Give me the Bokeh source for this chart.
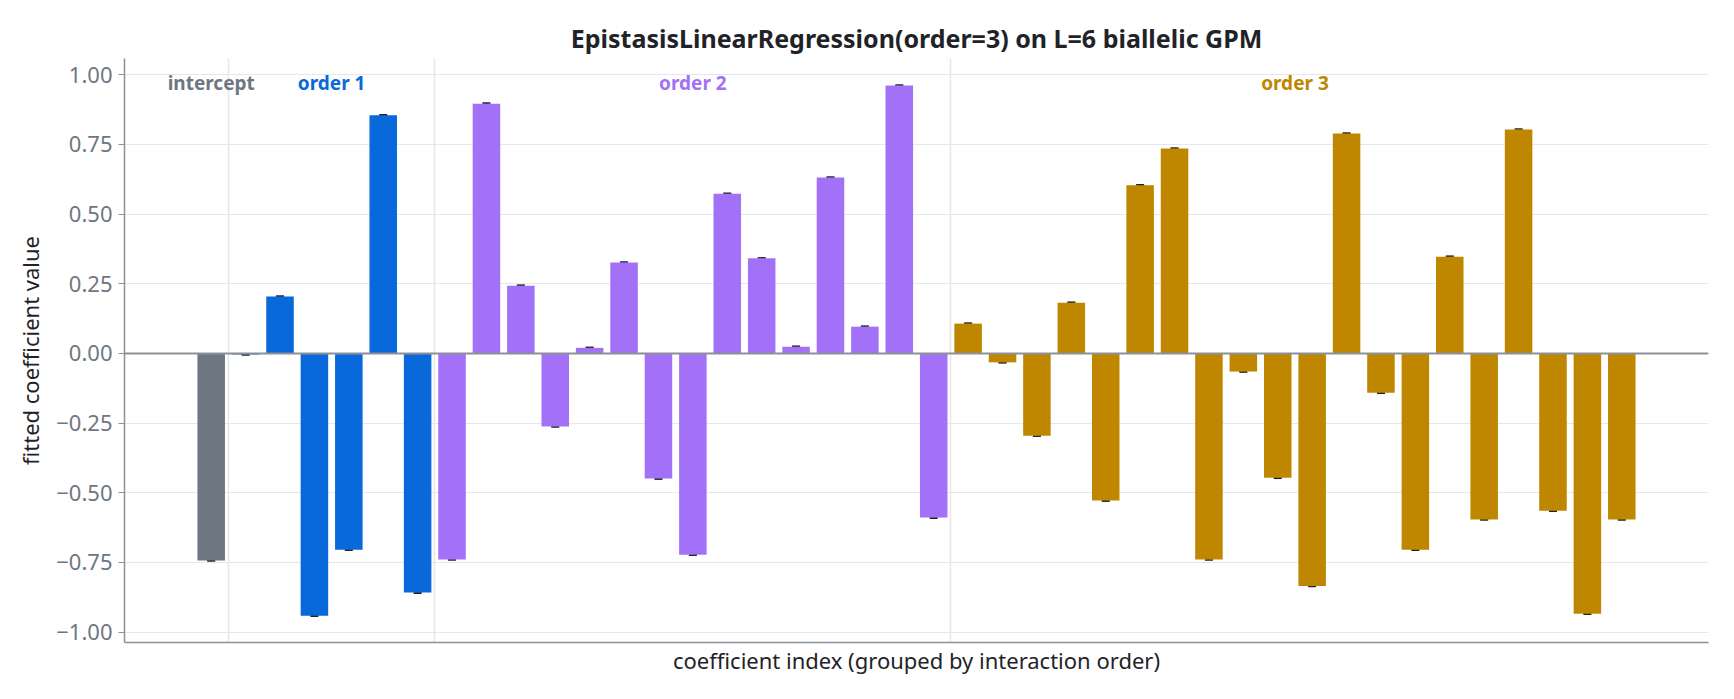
from bokeh.plotting import figure
from bokeh.models import (Range1d, FixedTicker, Span, Whisker, ColumnDataSource,
                          CustomJSTickFormatter, TeeHead)
from bokeh.core.properties import value
from bokeh.embed import file_html
from bokeh.resources import INLINE

# Fitted coefficients, grouped by interaction order
group_names = ["intercept", "order 1", "order 2", "order 3"]
group_colors = ["#6e7781", "#0969da", "#a371f7", "#bf8700"]

coef_intercept = [-0.743]
coef_order1 = [-0.004, 0.204, -0.941, -0.704, 0.854, -0.858]
coef_order2 = [-0.739, 0.896, 0.243, -0.262, 0.020, 0.326, -0.449, -0.722,
               0.573, 0.341, 0.024, 0.631, 0.096, 0.961, -0.589]
coef_order3 = [0.107, -0.032, -0.295, 0.182, -0.528, 0.603, 0.735, -0.739,
               -0.065, -0.446, -0.834, 0.789, -0.141, -0.704, 0.347, -0.596,
               0.803, -0.564, -0.934, -0.596]

# Standard errors of the coefficients (tiny)
err_intercept = [0.002]
err_order1 = [0.002, 0.002, 0.002, 0.002, 0.002, 0.002]
err_order2 = [0.002, 0.002, 0.002, 0.002, 0.002, 0.002, 0.002, 0.002,
              0.002, 0.002, 0.002, 0.002, 0.002, 0.002, 0.002]
err_order3 = [0.002, 0.002, 0.002, 0.002, 0.002, 0.002, 0.002, 0.002,
              0.002, 0.002, 0.002, 0.002, 0.002, 0.002, 0.002, 0.002,
              0.002, 0.002, 0.002, 0.002]

y_ticks = [-1.0, -0.75, -0.5, -0.25, 0.0, 0.25, 0.5, 0.75, 1.0]

groups = [coef_intercept, coef_order1, coef_order2, coef_order3]
errs = [err_intercept, err_order1, err_order2, err_order3]

xs, tops, colors, lo, hi = [], [], [], [], []
starts = []
i = 0
for g, (vals, es) in enumerate(zip(groups, errs)):
    starts.append(i)
    for v, e in zip(vals, es):
        xs.append(i)
        tops.append(v)
        colors.append(group_colors[g])
        lo.append(v - e)
        hi.append(v + e)
        i += 1
n = i
boundaries = [s - 0.5 for s in starts[1:]]
centers = [s + (len(vals) - 1) / 2 for s, vals in zip(starts, groups)]

src = ColumnDataSource(dict(x=xs, top=tops, color=colors, lower=lo, upper=hi))

FONT = "Noto Sans"
pad = 2.52
p = figure(width=1734, height=699, output_backend="svg", toolbar_location=None,
           x_range=Range1d(-pad, n - 1 + pad), y_range=Range1d(-1.037, 1.058),
           title="EpistasisLinearRegression(order=3) on L=6 biallelic GPM",
           min_border_left=124, min_border_right=26, min_border_top=58,
           min_border_bottom=57)
p.background_fill_color = "white"
p.border_fill_color = "white"
p.outline_line_color = None

p.title.align = "center"
p.title.text_font = FONT
p.title.text_font_size = "25px"
p.title.text_font_style = "bold"
p.title.text_color = "#1f2328"
p.title.standoff = 8

# grid: horizontal at y ticks, vertical only at group boundaries
p.ygrid.ticker = FixedTicker(ticks=y_ticks)
p.ygrid.grid_line_color = "#e6e7eb"
p.ygrid.grid_line_width = 1
p.xgrid.ticker = FixedTicker(ticks=boundaries)
p.xgrid.grid_line_color = "#e6e7eb"
p.xgrid.grid_line_width = 1.5

p.vbar(x="x", top="top", width=0.8, source=src, fill_color="color", line_color=None)

p.add_layout(Whisker(source=src, base="x", lower="lower", upper="upper",
                     line_color="#1f2328", line_width=1.5,
                     upper_head=TeeHead(size=8, line_color="#1f2328", line_width=1.5),
                     lower_head=TeeHead(size=8, line_color="#1f2328", line_width=1.5)))

p.add_layout(Span(location=0, dimension="width", line_color="#8b9099", line_width=2))

p.text(x=centers, y=[0.97] * len(centers), text=group_names,
       text_color=group_colors, text_font=value(FONT), text_font_style="bold",
       text_font_size="19px", text_align="center", text_baseline="middle")

axis_color = "#8b9099"
tick_label_color = "#6e7781"

p.yaxis.ticker = FixedTicker(ticks=y_ticks)
p.yaxis.formatter = CustomJSTickFormatter(
    code="return (tick < 0 ? '\\u2212' : '') + Math.abs(tick).toFixed(2);")
p.yaxis.axis_label = "fitted coefficient value"
p.yaxis.axis_line_color = axis_color
p.yaxis.axis_line_width = 1.5
p.yaxis.major_tick_line_color = axis_color
p.yaxis.major_tick_out = 6
p.yaxis.major_tick_in = 0
p.yaxis.minor_tick_line_color = None
p.yaxis.major_label_standoff = 6
p.yaxis.major_label_text_font = FONT
p.yaxis.major_label_text_font_size = "22px"
p.yaxis.major_label_text_color = tick_label_color
p.yaxis.axis_label_standoff = 8
p.yaxis.axis_label_text_font = FONT
p.yaxis.axis_label_text_font_size = "22px"
p.yaxis.axis_label_text_font_style = "normal"
p.yaxis.axis_label_text_color = "#1f2328"

p.xaxis.ticker = FixedTicker(ticks=[])
p.xaxis.axis_label = "coefficient index (grouped by interaction order)"
p.xaxis.axis_line_color = axis_color
p.xaxis.axis_line_width = 1.5
p.xaxis.major_tick_line_color = None
p.xaxis.minor_tick_line_color = None
p.xaxis.major_tick_out = 0
p.xaxis.major_label_standoff = 0
p.xaxis.major_label_text_font_size = "0px"
p.xaxis.axis_label_standoff = 2
p.xaxis.axis_label_text_font = FONT
p.xaxis.axis_label_text_font_size = "22px"
p.xaxis.axis_label_text_font_style = "normal"
p.xaxis.axis_label_text_color = "#1f2328"

open("out.html", "w").write(file_html(p, INLINE))
